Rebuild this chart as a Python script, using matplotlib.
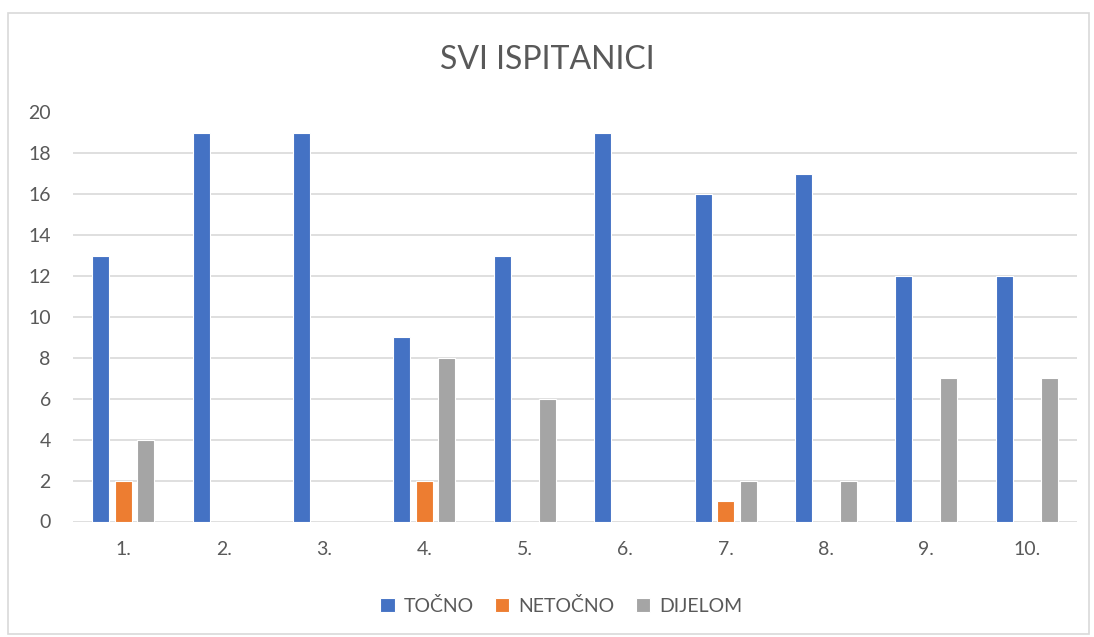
import numpy as np
import matplotlib.pyplot as plt
from matplotlib.patches import Rectangle

# Data
categories = ['1.', '2.', '3.', '4.', '5.', '6.', '7.', '8.', '9.', '10.']
tocno = [13, 19, 19, 9, 13, 19, 16, 17, 12, 12]
netocno = [2, 0, 0, 2, 0, 0, 1, 0, 0, 0]
dijelom = [4, 0, 0, 8, 6, 0, 2, 2, 7, 7]

plt.rcParams['font.family'] = ['Lato', 'DejaVu Sans']

W, H = 1094, 637
fig = plt.figure(figsize=(W / 100, H / 100), dpi=100)
ax = fig.add_axes([73 / W, 1 - 521.5 / H, (1077 - 73) / W, (521.5 - 112.5) / H])

# outer frame
fig.patches.append(Rectangle((8 / W, 3 / H), (1089 - 8) / W, (624 - 3) / H,
                             transform=fig.transFigure, fill=False,
                             edgecolor='#D9D9D9', linewidth=1.2))

x = np.arange(len(categories))
w = 0.17
step = 0.224
series = [('TOČNO', tocno, '#4472C4'),
          ('NETOČNO', netocno, '#ED7D31'),
          ('DIJELOM', dijelom, '#A5A5A5')]
for i, (name, vals, col) in enumerate(series):
    ax.bar(x + (i - 1) * step, vals, width=w, color=col, label=name,
           edgecolor='white', linewidth=0.8, zorder=3)

ax.set_xlim(-0.5, len(categories) - 0.5)
ax.set_ylim(0, 20)
ax.set_yticks(range(0, 21, 2))
ax.set_xticks(x)
ax.set_xticklabels(categories)
ax.grid(axis='y', color='#D9D9D9', linewidth=1.2, zorder=0)
for s in ax.spines.values():
    s.set_visible(False)
ax.tick_params(length=0, labelsize=14, labelcolor='#595959')
ax.tick_params(axis='y', pad=16)
ax.tick_params(axis='x', pad=14)

fig.text(0.5, 1 - 60 / H, 'SVI ISPITANICI', ha='center', va='center',
         fontsize=23, color='#595959')

leg = fig.legend(loc='center', bbox_to_anchor=(561 / W, 1 - 606 / H), ncol=3,
                 frameon=False, fontsize=14, handlelength=0.75,
                 handleheight=0.75, handletextpad=0.45, columnspacing=1.1)
for t in leg.get_texts():
    t.set_color('#595959')

fig.savefig('out.png', dpi=100)
